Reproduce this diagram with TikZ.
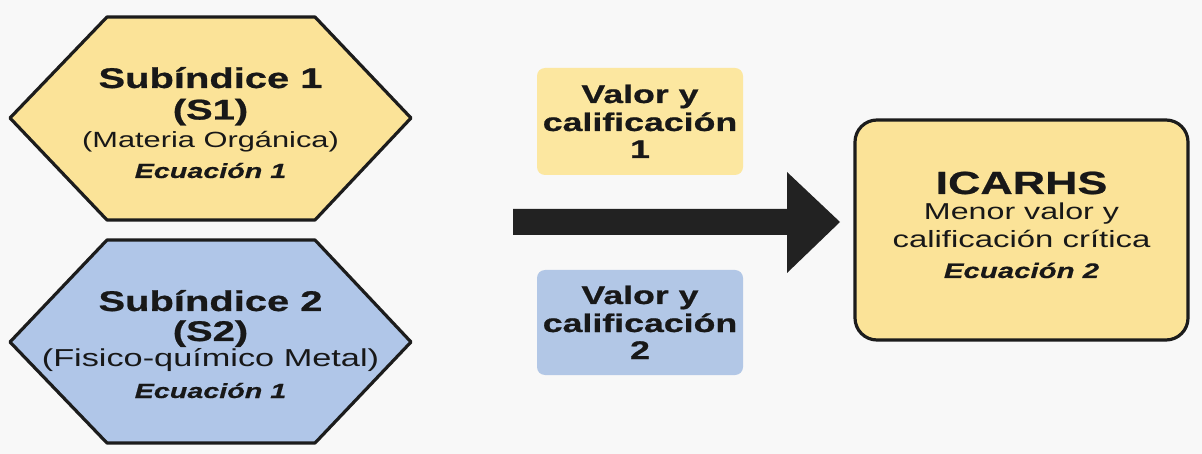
\documentclass[tikz,border=0pt]{standalone}
\usepackage{fontspec}
\setmainfont[FakeStretch=1.4, BoldFeatures={FakeBold=0.8}, BoldItalicFeatures={FakeBold=0.5}]{Liberation Sans}

\definecolor{bgcol}{RGB}{248,248,248}
\definecolor{edgecol}{RGB}{28,28,28}
\definecolor{inkcol}{RGB}{24,24,24}
\definecolor{hexyellow}{RGB}{251,227,152}
\definecolor{hexblue}{RGB}{176,198,232}
\definecolor{valyellow}{RGB}{252,231,160}
\definecolor{valblue}{RGB}{178,199,230}
\definecolor{arrowcol}{RGB}{34,34,34}

\begin{document}
\begin{tikzpicture}[x=1pt,y=-1pt]
\tikzstyle{every node}+=[inner sep=0pt, anchor=base, text=inkcol]
\tikzstyle{hexshape}=[draw=edgecol, line width=3.2pt, line join=round]
\tikzstyle{titletext}=[font=\fontsize{28.5}{32}\selectfont\bfseries]
\tikzstyle{valtext}=[font=\fontsize{25.5}{28}\selectfont\bfseries]
\tikzstyle{eqtext}=[font=\fontsize{20.5}{24}\selectfont\bfseries\itshape]
\fill [bgcol] (0,0) rectangle (1202,454);
\useasboundingbox (0,0) rectangle (1202,454);
\filldraw [hexshape, fill=hexyellow] (10,118) -- (107,17) -- (315,17) -- (411,118) -- (315,220) -- (107,220) -- cycle;
\draw (210.5,88) node [titletext] (s1name) {Subíndice 1};
\draw (210.5,119.5) node [titletext] (s1code) {(S1)};
\draw (210.5,147.5) node [font=\fontsize{22}{25}\selectfont] (s1desc) {(Materia Orgánica)};
\draw (210.5,178) node [eqtext] (s1eq) {Ecuación 1};
\filldraw [hexshape, fill=hexblue] (10,342) -- (107,240) -- (315,240) -- (411,342) -- (315,443) -- (107,443) -- cycle;
\draw (210.5,311) node [titletext] (s2name) {Subíndice 2};
\draw (210.5,341) node [titletext] (s2code) {(S2)};
\draw (210.5,366) node [font=\fontsize{24.5}{28}\selectfont] (s2desc) {(Fisico-químico Metal)};
\draw (210.5,398) node [eqtext] (s2eq) {Ecuación 1};
\fill [valyellow, rounded corners=8pt] (537,68) rectangle (743,175);
\draw (640,103) node [valtext] (v1a) {Valor y};
\draw (640,131) node [valtext] (v1b) {calificación};
\draw (640,158) node [valtext] (v1c) {1};
\fill [valblue, rounded corners=8pt] (537,270) rectangle (743,375);
\draw (640,304) node [valtext] (v2a) {Valor y};
\draw (640,332) node [valtext] (v2b) {calificación};
\draw (640,359) node [valtext] (v2c) {2};
\fill [arrowcol] (513,209) -- (787,209) -- (787,172) -- (840,222) -- (787,273) -- (787,235) -- (513,235) -- cycle;
\filldraw [hexshape, fill=hexyellow, rounded corners=22pt] (855,120) rectangle (1188,340);
\draw (1021.5,194) node [font=\fontsize{32}{36}\selectfont\bfseries] (icname) {ICARHS};
\draw (1021.5,220) node [font=\fontsize{23}{26}\selectfont] (icdesca) {Menor valor y};
\draw (1021.5,248) node [font=\fontsize{23.5}{26}\selectfont] (icdescb) {calificación crítica};
\draw (1021.5,278) node [eqtext, font=\fontsize{21}{24}\selectfont\bfseries\itshape] (iceq) {Ecuación 2};
\end{tikzpicture}
\end{document}
